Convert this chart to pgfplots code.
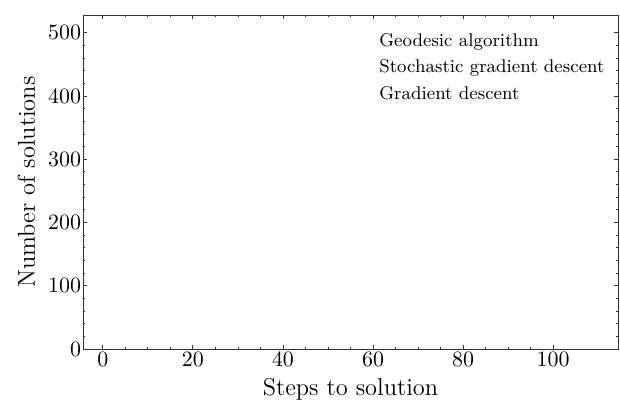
\documentclass[border=0pt]{standalone}
\usepackage{pgfplots}
\pgfplotsset{compat=1.18}
\begin{document}
\begin{tikzpicture}
\begin{axis}[
  scale only axis,
  width=267.5pt, height=167pt,
  xmin=-4.4, xmax=114.4,
  ymin=0, ymax=528,
  xtick={0,20,...,100},
  ytick={0,100,...,500},
  minor x tick num=3,
  minor y tick num=4,
  tick align=inside,
  major tick length=2.2pt,
  minor tick length=1.2pt,
  axis line style={line width=0.5pt, black!80},
  tick style={line width=0.4pt, black!80},
  tick label style={font=\fontsize{10.5}{12}\selectfont},
  yticklabel style={inner sep=0.8pt},
  xticklabel style={inner sep=1.5pt},
  label style={font=\fontsize{12.2}{14}\selectfont},
  xlabel={Steps to solution},
  ylabel={Number of solutions},
  xlabel style={inner sep=0pt, yshift=-4pt},
  ylabel style={inner sep=0pt, yshift=5.5pt},
  legend cell align=left,
  legend style={draw=none, fill=none,
    at={(0.542,0.973)}, anchor=north west,
    font=\fontsize{9.2}{13.25}\selectfont,
    row sep=0pt, column sep=0pt,
    nodes={inner xsep=0pt, inner ysep=0pt, text height=9pt, text depth=4.25pt}},
  legend image code/.code={},
]
\addlegendimage{draw=none}
\addlegendentry{Geodesic algorithm}
\addlegendimage{draw=none}
\addlegendentry{Stochastic gradient descent}
\addlegendimage{draw=none}
\addlegendentry{Gradient descent}
\end{axis}
\pgfresetboundingbox
\path ([xshift=-41.5pt,yshift=-26.5pt]current axis.south west) rectangle ([xshift=1pt,yshift=7.5pt]current axis.north east);
\end{tikzpicture}
\end{document}
